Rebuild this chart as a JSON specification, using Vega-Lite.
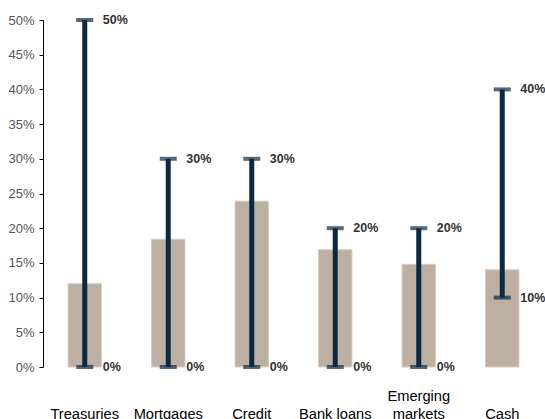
{
  "$schema": "https://vega.github.io/schema/vega-lite/v6.json",
  "autosize": "none",
  "width": 501,
  "height": 347,
  "padding": {"left": 43, "top": 20, "right": 1, "bottom": 52},
  "config": {
    "view": {"stroke": null},
    "font": "Liberation Sans",
    "axis": {"grid": false},
    "axisY": {
      "format": ".0%",
      "values": [0, 0.05, 0.1, 0.15, 0.2, 0.25, 0.3, 0.35, 0.4, 0.45, 0.5],
      "labelOverlap": false,
      "labelFlush": false,
      "domainColor": "#000000",
      "tickColor": "#000000",
      "tickSize": 4,
      "labelFontSize": 13,
      "labelColor": "#555555",
      "labelPadding": 5,
      "title": null
    }
  },
  "data": {
    "values": [
      {"asset": "Treasuries", "value": 0.12, "min": 0.0, "max": 0.5},
      {"asset": "Mortgages", "value": 0.184, "min": 0.0, "max": 0.3},
      {"asset": "Credit", "value": 0.239, "min": 0.0, "max": 0.3},
      {"asset": "Bank loans", "value": 0.169, "min": 0.0, "max": 0.2},
      {"asset": "Emerging markets", "value": 0.148, "min": 0.0, "max": 0.2},
      {"asset": "Cash", "value": 0.14, "min": 0.1, "max": 0.4}
    ]
  },
  "encoding": {
    "x": {
      "field": "asset",
      "type": "nominal",
      "sort": null,
      "title": null,
      "scale": {"paddingInner": 0.6, "paddingOuter": 0.3},
      "axis": {
        "domain": false,
        "ticks": false,
        "labelAngle": 0,
        "labelFontSize": 14.67,
        "labelColor": "#000000",
        "labelBaseline": "top",
        "labelPadding": 21,
        "labelLineHeight": 18,
        "labelOverlap": false,
        "labelExpr": "datum.value == 'Emerging markets' ? ['Emerging', 'markets'] : ['', datum.value]"
      }
    }
  },
  "layer": [
    {
      "mark": {"type": "bar", "color": "#bdb0a3", "stroke": "#d6ccc2", "strokeWidth": 1},
      "encoding": {
        "y": {
          "field": "value",
          "type": "quantitative",
          "title": null,
          "scale": {"domain": [0, 0.5], "nice": false},
          "axis": {
            "format": ".0%",
            "values": [0, 0.05, 0.1, 0.15, 0.2, 0.25, 0.3, 0.35, 0.4, 0.45, 0.5]
          }
        }
      }
    },
    {
      "mark": {"type": "rule", "color": "#0b2a42", "strokeWidth": 5},
      "encoding": {
        "y": {"field": "min", "type": "quantitative", "axis": {"format": ".0%", "values": [0, 0.05, 0.1, 0.15, 0.2, 0.25, 0.3, 0.35, 0.4, 0.45, 0.5]}},
        "y2": {"field": "max"}
      }
    },
    {
      "mark": {"type": "tick", "color": "#0b2a42", "size": 17, "thickness": 4, "orient": "horizontal"},
      "encoding": {"y": {"field": "max", "type": "quantitative", "axis": {"format": ".0%", "values": [0, 0.05, 0.1, 0.15, 0.2, 0.25, 0.3, 0.35, 0.4, 0.45, 0.5]}}}
    },
    {
      "mark": {"type": "tick", "color": "#0b2a42", "size": 17, "thickness": 4, "orient": "horizontal"},
      "encoding": {"y": {"field": "min", "type": "quantitative", "axis": {"format": ".0%", "values": [0, 0.05, 0.1, 0.15, 0.2, 0.25, 0.3, 0.35, 0.4, 0.45, 0.5]}}}
    },
    {
      "mark": {"type": "text", "align": "left", "baseline": "middle", "dx": 18, "fontWeight": "bold", "fontSize": 12.5, "color": "#333333"},
      "encoding": {
        "y": {"field": "max", "type": "quantitative", "axis": {"format": ".0%", "values": [0, 0.05, 0.1, 0.15, 0.2, 0.25, 0.3, 0.35, 0.4, 0.45, 0.5]}},
        "text": {"field": "max", "type": "quantitative", "format": ".0%"}
      }
    },
    {
      "mark": {"type": "text", "align": "left", "baseline": "middle", "dx": 18, "fontWeight": "bold", "fontSize": 12.5, "color": "#333333"},
      "encoding": {
        "y": {"field": "min", "type": "quantitative", "axis": {"format": ".0%", "values": [0, 0.05, 0.1, 0.15, 0.2, 0.25, 0.3, 0.35, 0.4, 0.45, 0.5]}},
        "text": {"field": "min", "type": "quantitative", "format": ".0%"}
      }
    }
  ]
}
